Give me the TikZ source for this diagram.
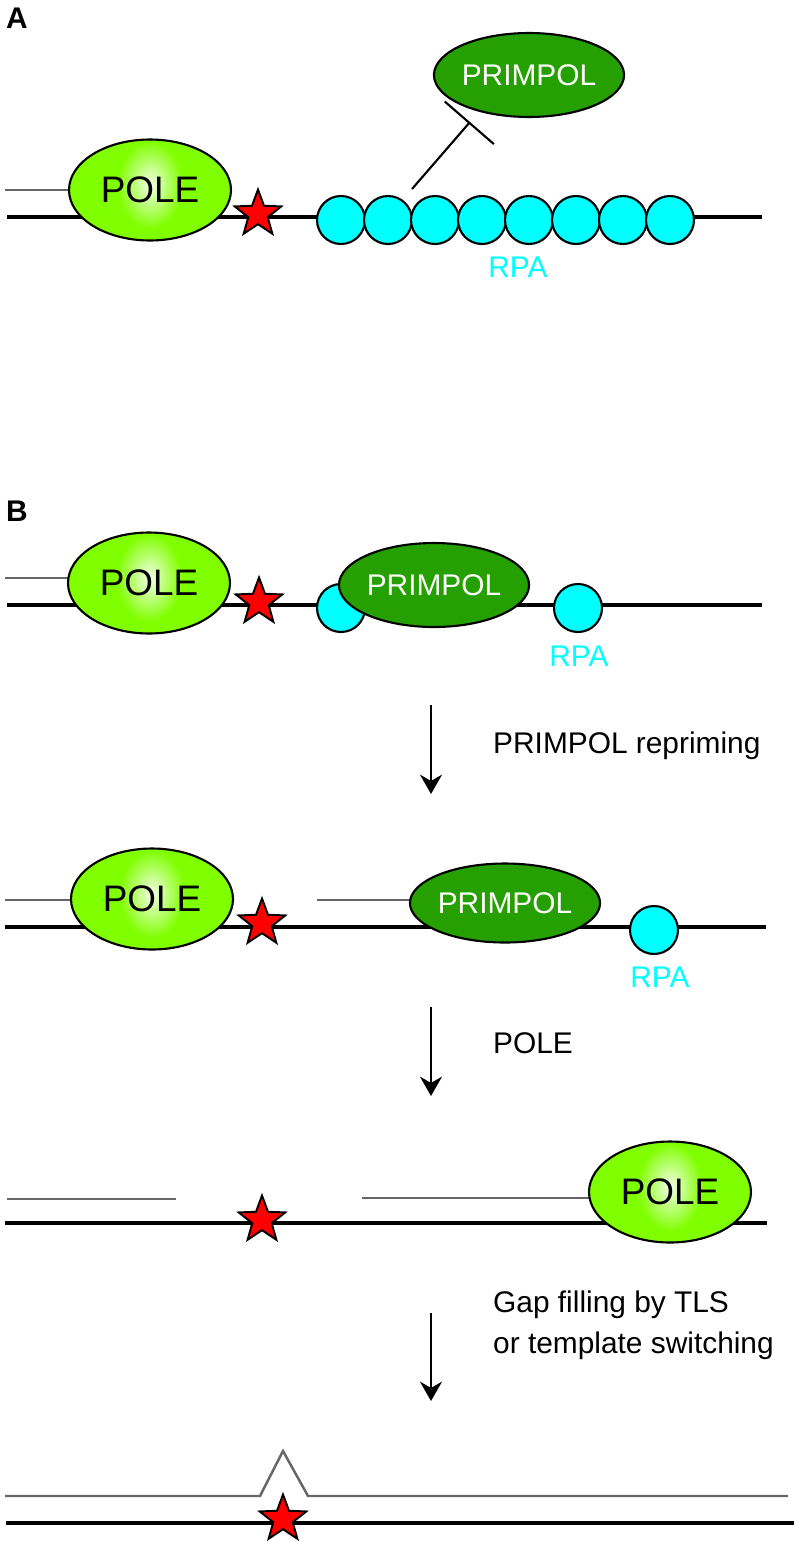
\documentclass[tikz,border=0pt]{standalone}
\usepackage{fontspec}
\setmainfont{Liberation Sans}
\usetikzlibrary{shapes.geometric, arrows.meta, positioning}
\definecolor{polegreen}{HTML}{80FF00}
\definecolor{polehi}{HTML}{F4FFE8}
\definecolor{primgreen}{HTML}{25A000}
\definecolor{rpacyan}{HTML}{00FFFF}
\definecolor{strandgray}{HTML}{666666}
\pgfdeclareradialshading{polehl}{\pgfpoint{0bp}{0bp}}{color(0bp)=(polehi); color(10bp)=(polegreen); color(50bp)=(polegreen)}

\begin{document}
\begin{tikzpicture}[x=0.02cm, y=-0.02cm,
    pole/.style = {draw, ellipse, line width=1.2pt, fill=polegreen, minimum width=3.24cm, minimum height=2.02cm, inner sep=0pt, font=\fontsize{21}{25}\selectfont,
      path picture={\shade[shading=polehl] ([yshift=1mm]path picture bounding box.center) ellipse [x radius=1.1cm, y radius=2.2cm];}},
    primpol/.style = {draw, ellipse, line width=1.2pt, fill=primgreen, minimum width=3.04cm, minimum height=1.68cm, inner sep=0pt, text=white, font=\fontsize{17}{20}\selectfont},
    rpa/.style = {draw, circle, line width=1.2pt, fill=rpacyan, minimum size=0.96cm, inner sep=0pt},
    lesion/.style = {draw, star, star points=5, star point ratio=2.4, line width=1.1pt, fill=red, minimum size=0.98cm, inner sep=0pt},
    template/.style = {draw=black, line width=1.8pt},
    nascent/.style = {draw=strandgray, line width=1.4pt},
    steparrow/.style = {draw, line width=1.4pt, -{Stealth[length=11pt, width=12.5pt]}},
    inhibit/.style = {draw, line width=1.2pt, -{Bar[width=37pt]}},
    steptext/.style = {anchor=base west, align=left, font=\fontsize{17}{23}\selectfont},
    rpatext/.style = {anchor=base, text=rpacyan, font=\fontsize{17}{20}\selectfont},
    panel/.style = {anchor=base west, font=\fontsize{17}{20}\selectfont\bfseries}]

      \useasboundingbox (0,0) rectangle (794,1542);

      \draw[nascent]  (5,190)   -- (100,190);
      \draw[template] (7,217)   -- (762,217);
      \draw[nascent]  (5,578)   -- (100,578);
      \draw[template] (7,605)   -- (762,605);
      \draw[nascent]  (5,900)   -- (100,900);
      \draw[nascent]  (317,900) -- (470,900);
      \draw[template] (5,927)   -- (766,927);
      \draw[nascent]  (7,1199)  -- (176,1199);
      \draw[nascent]  (362,1198) -- (640,1198);
      \draw[template] (5,1223)  -- (767,1223);
      \draw[nascent]  (5,1496) -- (260,1496) -- (283,1451) -- (308,1496) -- (788,1496);
      \draw[template] (6,1523)  -- (794,1523);

      \node[panel] (pA) at (0,28)  {A};
      \node[panel] (pB) at (0,521) {B};

      \node[pole]    (pole1) at (150,190)  {POLE};
      \node[lesion]  (star1) at (258,214)  {};
      \node[primpol] (prim1) at (529,75)   {PRIMPOL};
      \node[rpa]     (rpa1)  at (341,220)  {};
      \node[rpa]     (rpa2)  at (388,220)  {};
      \node[rpa]     (rpa3)  at (435,220)  {};
      \node[rpa]     (rpa4)  at (482,220)  {};
      \node[rpa]     (rpa5)  at (529,220)  {};
      \node[rpa]     (rpa6)  at (576,220)  {};
      \node[rpa]     (rpa7)  at (623,220)  {};
      \node[rpa]     (rpa8)  at (670,220)  {};
      \node[rpatext] (rpaA)  at (518,277)  {RPA};
      \coordinate (inhA) at (412,189);
      \coordinate (inhB) at (470,122);
      \draw[inhibit] (inhA) -- (inhB);

      \node[pole]    (pole2) at (149,583)  {POLE};
      \node[lesion]  (star2) at (259,602)  {};
      \node[rpa]     (rpa9)  at (341,608)  {};
      \node[primpol] (prim2) at (434,585)  {PRIMPOL};
      \node[rpa]     (rpa10) at (578,608)  {};
      \node[rpatext] (rpaB)  at (579,666)  {RPA};

      \coordinate (s1a) at (431,705);
      \coordinate (s1b) at (431,794);
      \draw[steparrow] (s1a) -- (s1b);
      \node[steptext] (t1) at (487,753) {PRIMPOL repriming};

      \node[pole]    (pole3) at (152,899)  {POLE};
      \node[lesion]  (star3) at (262,923)  {};
      \node[primpol, minimum height=1.58cm] (prim3) at (505,903) {PRIMPOL};
      \node[rpa]     (rpa11) at (654,930)  {};
      \node[rpatext] (rpaC)  at (660,987)  {RPA};

      \coordinate (s2a) at (431,1007);
      \coordinate (s2b) at (431,1096);
      \draw[steparrow] (s2a) -- (s2b);
      \node[steptext] (t2) at (487,1053) {POLE};

      \node[lesion]  (star4) at (262,1220) {};
      \node[pole]    (pole4) at (670,1192) {POLE};

      \coordinate (s3a) at (431,1313);
      \coordinate (s3b) at (431,1401);
      \draw[steparrow] (s3a) -- (s3b);
      \node[steptext] (t3) at (487,1353) {Gap filling by TLS\\or template switching};

      \node[lesion]  (star5) at (283,1519) {};

    \end{tikzpicture}
\end{document}
